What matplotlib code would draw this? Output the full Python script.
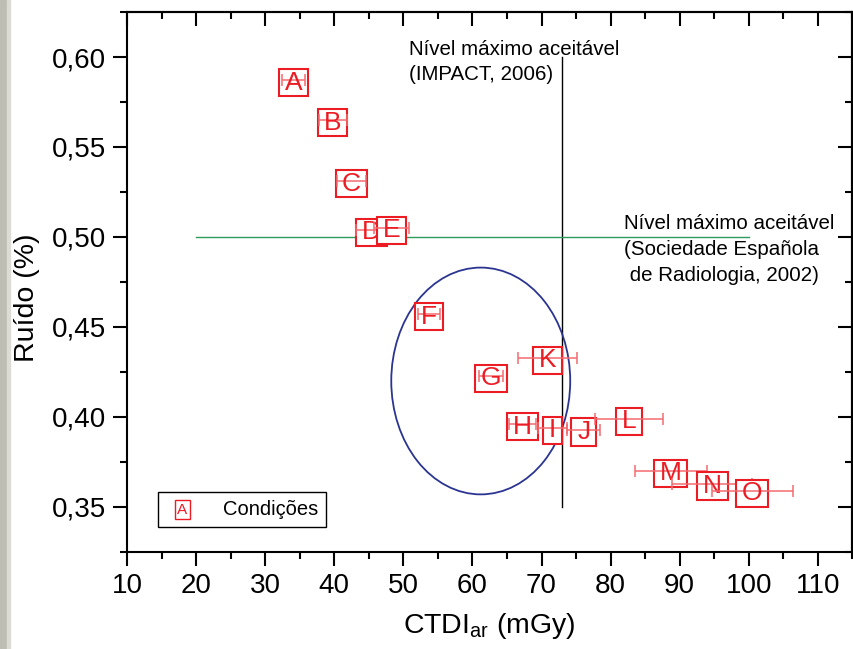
import matplotlib
matplotlib.use("Agg")
import matplotlib.pyplot as plt
from matplotlib.patches import Ellipse, Rectangle
from matplotlib.path import Path
from matplotlib.legend_handler import HandlerBase
from matplotlib.lines import Line2D
from matplotlib.text import Text
from matplotlib.ticker import MultipleLocator, FuncFormatter

# ---------------------------------------------------------------------------
# Data (CTDI_ar in mGy, noise in %)
# ---------------------------------------------------------------------------
labels = ["A", "B", "C", "D", "E", "F", "G", "H", "I", "J", "K", "L", "M", "N", "O"]
ctdi = [34.1, 39.8, 42.5, 45.4, 48.3, 53.7, 62.7, 67.2, 71.6, 76.1, 70.9, 82.7, 88.7, 94.7, 100.5]
ruido = [0.587, 0.565, 0.531, 0.504, 0.505, 0.457, 0.423, 0.396, 0.394, 0.393, 0.433, 0.399, 0.370, 0.363, 0.359]
ctdi_err = [1.7, 2.0, 2.1, 2.2, 2.5, 1.6, 1.75, 1.95, 2.1, 2.4, 4.3, 4.9, 5.2, 5.8, 5.9]

impact_x = 73.0        # Nível máximo (IMPACT, 2006)
impact_y = [0.35, 0.60]
sera_y = 0.50          # Nível máximo (Sociedade Española de Radiologia, 2002)
sera_x = [20, 100]
ell_center = (61.2, 0.420)
ell_size = (25.9, 0.126)

RED = "#ec1c24"
ERR = "#f36b70"

plt.rcParams.update({"font.family": ["Liberation Sans", "DejaVu Sans"],
                     "mathtext.default": "regular"})

fig = plt.figure(figsize=(8.54, 6.49), dpi=100)
ax = fig.add_axes([0.1487, 0.1495, 0.8495, 0.832])

# grey strip on the left edge of the original slide
fig.patches.append(Rectangle((0, 0), 7 / 854, 1, transform=fig.transFigure,
                             color="#bdbdb3", zorder=-1))
fig.patches.append(Rectangle((7 / 854, 0), 3 / 854, 1, transform=fig.transFigure,
                             color="#dcdcd4", zorder=-1))


def letter_box(x0, y0, width, height, mutation_size):
    # wider padding horizontally than vertically, like the Origin letter symbols
    px, py = 0.22 * mutation_size, 0.06 * mutation_size
    x0, y0 = x0 - px, y0 - py
    x1, y1 = x0 + width + 2 * px, y0 + height + 2 * py
    return Path([(x0, y0), (x1, y0), (x1, y1), (x0, y1), (x0, y0)], closed=True)


for i, (lab, x, y, e) in enumerate(zip(labels, ctdi, ruido, ctdi_err)):
    z = 3 + i
    ax.text(x, y, lab, ha="center", va="center_baseline", fontsize=19, color="none",
            zorder=z, bbox=dict(boxstyle=letter_box, fc="white", ec=RED, lw=1.5))
    ax.errorbar(x, y, xerr=e, fmt="none", ecolor=ERR, elinewidth=1.1, capsize=4,
                capthick=1.1, zorder=z + 0.3)
    ax.text(x, y, lab, ha="center", va="center_baseline", fontsize=19, color=RED,
            zorder=z + 0.5)

ax.plot([impact_x, impact_x], impact_y, color="black", lw=1, zorder=2)
ax.plot(sera_x, [sera_y, sera_y], color="#2e9b5c", lw=1, zorder=2)
ax.add_patch(Ellipse(ell_center, ell_size[0], ell_size[1], fill=False,
                     ec="#2b3591", lw=1.3, zorder=2))

ax.text(0.389, 0.949, "Nível máximo aceitável\n(IMPACT, 2006)", transform=ax.transAxes,
        fontsize=14.8, ha="left", va="top", linespacing=1.45)
ax.text(0.685, 0.625, "Nível máximo aceitável\n(Sociedade Española\n de Radiologia, 2002)",
        transform=ax.transAxes, fontsize=14.8, ha="left", va="top", linespacing=1.45)

ax.set_xlim(10, 115)
ax.set_ylim(0.325, 0.625)
ax.xaxis.set_major_locator(MultipleLocator(10))
ax.xaxis.set_minor_locator(MultipleLocator(5))
ax.yaxis.set_major_locator(MultipleLocator(0.05))
ax.yaxis.set_minor_locator(MultipleLocator(0.025))
ax.yaxis.set_major_formatter(FuncFormatter(lambda v, p: f"{v:.2f}".replace(".", ",")))
ax.tick_params(which="major", direction="out", length=10, width=1.5, labelsize=20, pad=5)
ax.tick_params(which="minor", direction="out", length=5, width=1.5)
for s in ax.spines.values():
    s.set_linewidth(1.5)

# mirrored ticks pointing inwards on top and right
top = ax.secondary_xaxis("top")
top.xaxis.set_major_locator(MultipleLocator(10))
top.xaxis.set_minor_locator(MultipleLocator(5))
top.tick_params(which="major", direction="in", length=10, width=1.5, labeltop=False)
top.tick_params(which="minor", direction="in", length=5, width=1.5)
top.spines["top"].set_linewidth(1.5)
right = ax.secondary_yaxis("right")
right.yaxis.set_major_locator(MultipleLocator(0.05))
right.yaxis.set_minor_locator(MultipleLocator(0.025))
right.tick_params(which="major", direction="in", length=10, width=1.5, labelright=False)
right.tick_params(which="minor", direction="in", length=5, width=1.5)
right.spines["right"].set_linewidth(1.5)

ax.set_xlabel(r"CTDI$_{ar}$ (mGy)", fontsize=20.5)
ax.set_ylabel("Ruído (%)", fontsize=20.5)
ax.xaxis.set_label_coords(0.5, -0.11)
ax.yaxis.set_label_coords(-0.12, 0.47)


class LetterHandler(HandlerBase):
    def create_artists(self, legend, orig_handle, xdescent, ydescent, width, height,
                       fontsize, trans):
        t = Text(width / 2 - xdescent, height / 2 - ydescent, "A", color=RED,
                 ha="center", va="center_baseline", fontsize=11, transform=trans,
                 bbox=dict(boxstyle="square,pad=0.15", fc="white", ec=RED, lw=1))
        return [t]


h = Line2D([], [], color=RED)
leg = ax.legend([h], ["Condições"], handler_map={Line2D: LetterHandler()},
                loc="lower left", bbox_to_anchor=(0.043, 0.046), borderaxespad=0,
                fontsize=14.5, fancybox=False, edgecolor="black", framealpha=1,
                handlelength=1.6, handletextpad=1.2, borderpad=0.4)
leg.get_frame().set_linewidth(1)
leg.set_zorder(30)

fig.savefig("out.png", dpi=100)
